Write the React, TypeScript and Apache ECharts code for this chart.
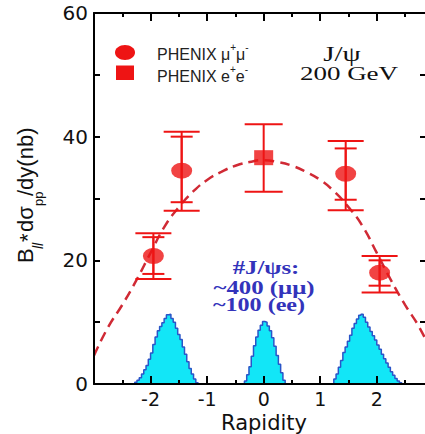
import React, { useEffect, useRef } from 'react';
import * as echarts from 'echarts';

// Dashed model curve
const curveX = [-3, -2.75, -2.5, -2.25, -2, -1.75, -1.5, -1.25, -1, -0.75, -0.5, -0.25, 0, 0.25, 0.5, 0.75, 1, 1.25, 1.5, 1.75, 2, 2.25, 2.5, 2.75, 3];
const curveY = [4.6, 9.2, 12.8, 16.8, 21.2, 25.5, 28.6, 31.1, 33.0, 34.3, 35.3, 35.9, 36.2, 35.9, 35.3, 34.3, 33.0, 31.1, 28.6, 25.5, 21.2, 16.8, 12.8, 9.2, 4.6];

// PHENIX mu+mu- points
const mumuX = [-1.95, -1.45, 1.45, 2.05];
const mumuY = [20.7, 34.5, 34.0, 18.0];
const mumuHiOuter = [24.4, 40.8, 39.3, 20.7];
const mumuLoOuter = [17.0, 28.0, 28.1, 14.8];
const mumuHiInner = [23.75, 40.0, 38.1, 20.0];
const mumuLoInner = [17.8, 29.4, 29.8, 15.9];

// PHENIX e+e- point
const eeX = [0.0];
const eeY = [36.6];
const eeHi = [42.0];
const eeLo = [31.1];

// J/psi count histograms (bin width 0.04)
const binWidth = 0.04;
const histLeftStart = -2.28;
const histLeft = [0.3, 0.6, 1.0, 1.6, 2.3, 3.0, 4.0, 5.0, 6.4, 7.6, 8.6, 9.3, 9.9, 10.6, 11.2, 11.3, 10.6, 10.0, 9.0, 8.0, 7.2, 6.0, 4.8, 3.6, 2.5, 1.6, 0.8, 0.2];
const histCenterStart = -0.34;
const histCenter = [0.5, 1.5, 2.8, 4.5, 6.2, 7.6, 8.7, 9.5, 10.1, 10.0, 9.4, 8.6, 7.5, 6.1, 4.6, 3.2, 1.8, 0.6];
const histRightStart = 1.24;
const histRight = [0.8, 1.6, 2.7, 3.8, 5.1, 6.0, 6.9, 7.9, 9.0, 9.8, 10.5, 11.1, 11.3, 10.8, 10.0, 9.2, 8.5, 7.8, 7.1, 6.3, 5.6, 4.8, 4.1, 3.4, 2.7, 2.0, 1.4, 0.9, 0.5, 0.2];

const RED = '#ee1414';
const SANS = 'Liberation Sans';
const SERIF = 'Liberation Serif';
const AXF = 'DejaVu Sans';

function stepData(start: number, values: number[]) {
  const d: number[][] = [[start, 0]];
  values.forEach((v, i) => d.push([+(start + i * binWidth).toFixed(4), v]));
  d.push([+(start + values.length * binWidth).toFixed(4), 0]);
  return d;
}

function histSeries(start: number, values: number[]) {
  return {
    type: 'line',
    step: 'end',
    data: stepData(start, values),
    symbol: 'none',
    lineStyle: { color: '#2a55c8', width: 1.5 },
    areaStyle: { color: '#12e6f7', opacity: 1 },
    z: 1,
    silent: true,
  };
}

function errSeries(xs: number[], his: number[], los: number[], capPx: number) {
  return {
    type: 'custom',
    data: xs.map((x, i) => [x, his[i], los[i]]),
    renderItem: (params: any, api: any) => {
      const top = api.coord([api.value(0), api.value(1)]);
      const bot = api.coord([api.value(0), api.value(2)]);
      const h = capPx / 2;
      const st = { stroke: RED, lineWidth: 2 };
      return {
        type: 'group',
        children: [
          { type: 'line', shape: { x1: top[0], y1: top[1], x2: bot[0], y2: bot[1] }, style: st },
          { type: 'line', shape: { x1: top[0] - h, y1: top[1], x2: top[0] + h, y2: top[1] }, style: st },
          { type: 'line', shape: { x1: bot[0] - h, y1: bot[1], x2: bot[0] + h, y2: bot[1] }, style: st },
        ],
      };
    },
    z: 4,
    silent: true,
  };
}

function txt(text: string, x: number, y: number, o: any = {}) {
  return {
    type: 'text',
    x,
    y,
    scaleX: o.scaleX || 1,
    z: 20,
    style: {
      text,
      x: 0,
      y: 0,
      fill: o.fill || '#222',
      fontSize: o.size || 16,
      fontFamily: o.family || SANS,
      fontWeight: o.weight || 'normal',
      fontStyle: o.style || 'normal',
      textAlign: o.align || 'left',
      align: o.align || 'left',
      textVerticalAlign: 'middle',
      verticalAlign: 'middle',
      rich: o.rich,
      lineHeight: o.lineHeight,
    },
  };
}

const legendRich = {
  m: { fontSize: 16, fontFamily: SANS, fill: '#222', lineHeight: 20, verticalAlign: 'bottom' },
  s: { fontSize: 10, fontFamily: SANS, fill: '#222', lineHeight: 10, verticalAlign: 'top' },
};

const CIRCLE_PATH = 'path://M1,0A1,1,0,1,1,-1,0A1,1,0,1,1,1,0Z';

export default function App() {
  const ref = useRef<HTMLDivElement>(null);
  useEffect(() => {
    if (!ref.current) return;
    const chart = echarts.init(ref.current, undefined, { renderer: 'svg' });
    const axisLine = { show: true, onZero: false, lineStyle: { color: '#000', width: 2 } };
    const baseX = { type: 'value', min: -3, max: 2.87, splitLine: { show: false }, z: 10 };
    const option: any = {
      animation: false,
      backgroundColor: '#fff',
      grid: { left: 94, top: 13, width: 332, height: 371, outerBoundsMode: 'none', containLabel: false },
      xAxis: [
        {
          ...baseX,
          position: 'bottom',
          interval: 1,
          axisLine,
          axisTick: { show: true, inside: true, length: 8, lineStyle: { color: '#000', width: 2 } },
          axisLabel: {
            show: true,
            margin: 5,
            fontSize: 19,
            fontFamily: AXF,
            color: '#111',
            formatter: (v: number) => (Number.isInteger(v) && v > -3 ? String(v) : ''),
          },
          name: 'Rapidity',
          nameLocation: 'middle',
          nameGap: 20,
          nameTextStyle: { fontSize: 21, fontFamily: AXF, color: '#111', padding: [0, 0, 0, 8], lineHeight: 21 },
        },
        {
          ...baseX,
          position: 'bottom',
          interval: 0.5,
          axisLine: { show: false, onZero: false },
          axisTick: { show: true, inside: true, length: 4, lineStyle: { color: '#000', width: 2 } },
          axisLabel: { show: false },
        },
        {
          ...baseX,
          position: 'top',
          interval: 1,
          axisLine,
          axisTick: { show: true, inside: true, length: 8, lineStyle: { color: '#000', width: 2 } },
          axisLabel: { show: false },
        },
        {
          ...baseX,
          position: 'top',
          interval: 0.5,
          axisLine: { show: false, onZero: false },
          axisTick: { show: true, inside: true, length: 4, lineStyle: { color: '#000', width: 2 } },
          axisLabel: { show: false },
        },
      ],
      yAxis: [
        {
          type: 'value',
          min: 0,
          max: 60,
          interval: 10,
          position: 'left',
          z: 10,
          axisLine,
          splitLine: { show: false },
          axisTick: { show: true, inside: true, length: 6, lineStyle: { color: '#000', width: 2 } },
          axisLabel: {
            show: true,
            margin: 6,
            fontSize: 20,
            fontFamily: AXF,
            color: '#111',
            formatter: (v: number) => (v % 20 === 0 ? String(v) : ''),
          },
        },
        {
          type: 'value',
          min: 0,
          max: 60,
          interval: 10,
          position: 'right',
          z: 10,
          axisLine,
          splitLine: { show: false },
          axisTick: { show: true, inside: true, length: 6, lineStyle: { color: '#000', width: 2 } },
          axisLabel: { show: false },
        },
      ],
      series: [
        histSeries(histLeftStart, histLeft),
        histSeries(histCenterStart, histCenter),
        histSeries(histRightStart, histRight),
        {
          type: 'line',
          data: curveX.map((x, i) => [x, curveY[i]]),
          smooth: true,
          symbol: 'none',
          lineStyle: { color: '#d02a35', width: 2.5, type: [10, 6] },
          z: 2,
          silent: true,
        },
        errSeries(mumuX, mumuHiOuter, mumuLoOuter, 36),
        errSeries(mumuX, mumuHiInner, mumuLoInner, 22),
        errSeries(eeX, eeHi, eeLo, 38),
        {
          type: 'scatter',
          data: mumuX.map((x, i) => [x, mumuY[i]]),
          symbol: CIRCLE_PATH,
          symbolSize: [21, 16],
          itemStyle: { color: RED },
          z: 5,
          silent: true,
        },
        {
          type: 'scatter',
          data: eeX.map((x, i) => [x, eeY[i]]),
          symbol: 'rect',
          symbolSize: [19, 15],
          itemStyle: { color: RED },
          z: 5,
          silent: true,
        },
      ],
      graphic: [
        // legend
        { type: 'ellipse', shape: { cx: 125, cy: 52.5, rx: 10, ry: 7.5 }, style: { fill: RED }, z: 20 },
        { type: 'rect', shape: { x: 116, y: 65.5, width: 18, height: 14.5 }, style: { fill: RED }, z: 20 },
        txt('{m|PHENIX \u03bc}{s|+}{m|\u03bc}{s|-}', 157, 52, { rich: legendRich, lineHeight: 20 }),
        txt('{m|PHENIX e}{s|+}{m|e}{s|-}', 157, 74, { rich: legendRich, lineHeight: 20 }),
        // title
        txt('J/\u03c8', 342, 54, { family: SERIF, size: 20, scaleX: 1.45, align: 'center', fill: '#111' }),
        txt('200 GeV', 349, 73, { family: SERIF, size: 19, scaleX: 1.42, align: 'center', fill: '#111' }),
        // counts
        txt('#J/\u03c8s:', 266, 268, { family: SERIF, size: 18, scaleX: 1.38, align: 'center', fill: '#3333bb', weight: 'bold' }),
        txt('~400 (\u03bc\u03bc)', 264, 288, { family: SERIF, size: 18, scaleX: 1.38, align: 'center', fill: '#3333bb', weight: 'bold' }),
        txt('~100 (ee)', 259, 305, { family: SERIF, size: 18, scaleX: 1.34, align: 'center', fill: '#3333bb', weight: 'bold' }),
        // y axis title
        {
          type: 'group',
          x: 25,
          y: 263,
          rotation: Math.PI / 2,
          children: [
            txt('B', 0, 0, { size: 22, fill: '#111' }),
            txt('ll', 14, 13, { size: 14, style: 'italic', fill: '#111' }),
            txt('*', 21, 2, { size: 22, fill: '#111' }),
            txt('d\u03c3', 31, 0, { size: 22, fill: '#111' }),
            txt('pp', 57, 13, { size: 13, fill: '#111' }),
            txt('/dy(nb)', 67, 0, { size: 22, fill: '#111' }),
          ],
        },
      ],
    };
    chart.setOption(option);
    return () => chart.dispose();
  }, []);
  return (
    <div style={{ position: 'absolute', left: 0, top: 0, width: 425, height: 434, overflow: 'hidden', background: '#fff' }}>
      <div ref={ref} style={{ width: 440, height: 434 }} />
    </div>
  );
}
